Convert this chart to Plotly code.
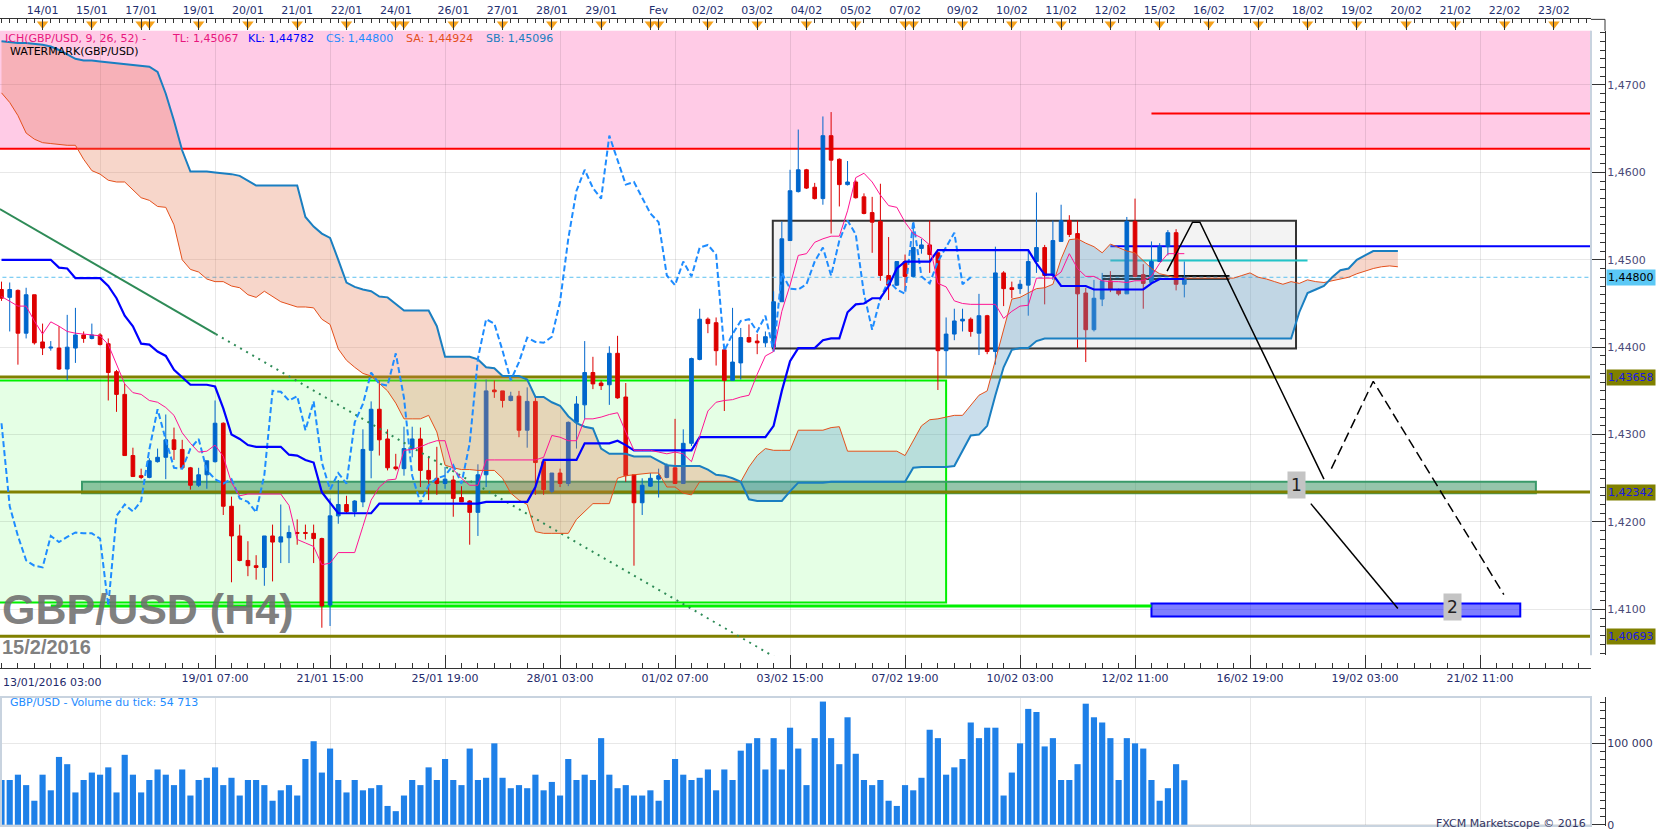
import plotly.graph_objects as go

W, H = 1663, 838

# ---------------- data ----------------
opens = [1.4466, 1.4457, 1.4465, 1.4416, 1.4460, 1.4406, 1.4399, 1.4399, 1.4375, 1.4399,
         1.4414, 1.4410, 1.4414, 1.4404, 1.4372, 1.4346, 1.4276, 1.4253, 1.4251, 1.4269,
         1.4274, 1.4294, 1.4283, 1.4262, 1.4242, 1.4254, 1.4269, 1.4313, 1.4218, 1.4184,
         1.4156, 1.4150, 1.4148, 1.4184, 1.4177, 1.4182, 1.4188, 1.4188, 1.4187, 1.4181,
         1.4105, 1.4207, 1.4220, 1.4212, 1.4223, 1.4282, 1.4329, 1.4295, 1.4263, 1.4261,
         1.4284, 1.4295, 1.4259, 1.4250, 1.4244, 1.4248, 1.4228, 1.4224, 1.4211, 1.4254,
         1.4351, 1.4350, 1.4339, 1.4344, 1.4305, 1.4338, 1.4269, 1.4235, 1.4256, 1.4244,
         1.4314, 1.4334, 1.4371, 1.4359, 1.4357, 1.4393, 1.4343, 1.4254, 1.4222, 1.4241,
         1.4249, 1.4251, 1.4262, 1.4244, 1.4290, 1.4386, 1.4432, 1.4428, 1.4397, 1.4362,
         1.4382, 1.4411, 1.4407, 1.4405, 1.4400, 1.4452, 1.4522, 1.4578, 1.4603, 1.4583,
         1.4570, 1.4642, 1.4615, 1.4586, 1.4589, 1.4572, 1.4554, 1.4544, 1.4482, 1.4471,
         1.4498, 1.4481, 1.4513, 1.4517, 1.4508, 1.4396, 1.4415, 1.4430, 1.4432, 1.4416,
         1.4436, 1.4395, 1.4485, 1.4468, 1.4467, 1.4471, 1.4498, 1.4514, 1.4482, 1.4521,
         1.4545, 1.4530, 1.4462, 1.4420, 1.4455, 1.4476, 1.4466, 1.4461, 1.4544, 1.4483,
         1.4474, 1.4498, 1.4515, 1.4531, 1.4472]
highs = [1.4475, 1.4474, 1.4466, 1.4468, 1.4460, 1.4427, 1.4407, 1.4424, 1.4437, 1.4445,
         1.4418, 1.4427, 1.4416, 1.4410, 1.4374, 1.4358, 1.4285, 1.4261, 1.4273, 1.4284,
         1.4323, 1.4308, 1.4294, 1.4263, 1.4262, 1.4270, 1.4339, 1.4314, 1.4229, 1.4197,
         1.4178, 1.4162, 1.4184, 1.4197, 1.4220, 1.4196, 1.4203, 1.4197, 1.4197, 1.4182,
         1.4227, 1.4248, 1.4230, 1.4225, 1.4306, 1.4338, 1.4362, 1.4306, 1.4278, 1.4309,
         1.4309, 1.4308, 1.4275, 1.4286, 1.4263, 1.4253, 1.4241, 1.4225, 1.4266, 1.4363,
         1.4362, 1.4350, 1.4349, 1.4350, 1.4354, 1.4343, 1.4269, 1.4256, 1.4261, 1.4315,
         1.4344, 1.4407, 1.4389, 1.4362, 1.4401, 1.4413, 1.4359, 1.4254, 1.4250, 1.4256,
         1.4261, 1.4267, 1.4318, 1.4306, 1.4388, 1.4444, 1.4434, 1.4434, 1.4398, 1.4445,
         1.4422, 1.4426, 1.4415, 1.4418, 1.4464, 1.4544, 1.4603, 1.4649, 1.4604, 1.4588,
         1.4664, 1.4669, 1.4616, 1.4613, 1.4591, 1.4576, 1.4572, 1.4587, 1.4526, 1.4498,
         1.4506, 1.4543, 1.4524, 1.4545, 1.4509, 1.4434, 1.4444, 1.4444, 1.4434, 1.4461,
         1.4437, 1.4515, 1.4487, 1.4475, 1.4477, 1.4510, 1.4577, 1.4517, 1.4545, 1.4563,
         1.4551, 1.4545, 1.4468, 1.4477, 1.4485, 1.4487, 1.4467, 1.4549, 1.4570, 1.4495,
         1.4521, 1.4519, 1.4534, 1.4535, 1.4498]
lows = [1.4453, 1.4418, 1.4380, 1.4410, 1.4403, 1.4391, 1.4396, 1.4374, 1.4362, 1.4382,
        1.4405, 1.4409, 1.4402, 1.4339, 1.4326, 1.4276, 1.4252, 1.4249, 1.4250, 1.4268,
        1.4249, 1.4271, 1.4262, 1.4237, 1.4240, 1.4238, 1.4268, 1.4208, 1.4131, 1.4155,
        1.4138, 1.4134, 1.4127, 1.4132, 1.4153, 1.4153, 1.4174, 1.4180, 1.4153, 1.4079,
        1.4081, 1.4198, 1.4210, 1.4206, 1.4217, 1.4250, 1.4276, 1.4259, 1.4259, 1.4253,
        1.4274, 1.4240, 1.4225, 1.4231, 1.4238, 1.4206, 1.4223, 1.4174, 1.4184, 1.4240,
        1.4342, 1.4331, 1.4338, 1.4297, 1.4285, 1.4231, 1.4231, 1.4233, 1.4240, 1.4241,
        1.4284, 1.4318, 1.4352, 1.4351, 1.4334, 1.4341, 1.4246, 1.4150, 1.4208, 1.4240,
        1.4228, 1.4250, 1.4244, 1.4244, 1.4287, 1.4385, 1.4416, 1.4379, 1.4327, 1.4362,
        1.4363, 1.4405, 1.4392, 1.4400, 1.4396, 1.4452, 1.4522, 1.4577, 1.4581, 1.4569,
        1.4563, 1.4530, 1.4561, 1.4585, 1.4570, 1.4552, 1.4508, 1.4476, 1.4454, 1.4470,
        1.4464, 1.4480, 1.4507, 1.4485, 1.4351, 1.4367, 1.4408, 1.4418, 1.4412, 1.4391,
        1.4392, 1.4380, 1.4447, 1.4456, 1.4461, 1.4436, 1.4485, 1.4449, 1.4477, 1.4521,
        1.4526, 1.4399, 1.4383, 1.4418, 1.4447, 1.4463, 1.4459, 1.4461, 1.4480, 1.4444,
        1.4474, 1.4498, 1.4505, 1.4465, 1.4457]
closes = [1.4456, 1.4466, 1.4416, 1.4460, 1.4405, 1.4399, 1.4400, 1.4375, 1.4400, 1.4414,
          1.4410, 1.4414, 1.4403, 1.4371, 1.4346, 1.4276, 1.4252, 1.4251, 1.4270, 1.4274,
          1.4294, 1.4283, 1.4262, 1.4242, 1.4254, 1.4270, 1.4313, 1.4218, 1.4184, 1.4156,
          1.4150, 1.4148, 1.4184, 1.4177, 1.4183, 1.4188, 1.4187, 1.4187, 1.4181, 1.4104,
          1.4207, 1.4220, 1.4212, 1.4224, 1.4283, 1.4329, 1.4294, 1.4262, 1.4261, 1.4284,
          1.4295, 1.4259, 1.4249, 1.4244, 1.4249, 1.4227, 1.4223, 1.4211, 1.4254, 1.4350,
          1.4349, 1.4339, 1.4344, 1.4305, 1.4338, 1.4268, 1.4237, 1.4256, 1.4244, 1.4314,
          1.4335, 1.4371, 1.4358, 1.4356, 1.4393, 1.4342, 1.4253, 1.4222, 1.4242, 1.4250,
          1.4253, 1.4265, 1.4244, 1.4290, 1.4387, 1.4432, 1.4427, 1.4396, 1.4362, 1.4383,
          1.4411, 1.4406, 1.4405, 1.4412, 1.4452, 1.4524, 1.4579, 1.4603, 1.4582, 1.4570,
          1.4642, 1.4614, 1.4586, 1.4589, 1.4571, 1.4553, 1.4543, 1.4482, 1.4471, 1.4498,
          1.4481, 1.4514, 1.4517, 1.4506, 1.4396, 1.4415, 1.4430, 1.4432, 1.4418, 1.4436,
          1.4395, 1.4485, 1.4467, 1.4466, 1.4472, 1.4498, 1.4514, 1.4482, 1.4522, 1.4545,
          1.4529, 1.4461, 1.4420, 1.4456, 1.4476, 1.4466, 1.4461, 1.4544, 1.4481, 1.4473,
          1.4498, 1.4515, 1.4531, 1.4472, 1.4480]
volumes = [55000, 55000, 61500, 48700, 29500, 61500, 42300, 83300, 74400, 39700,
           55000, 64100, 61500, 70500, 39700, 85900, 61500, 39700, 55000, 67900,
           61500, 48700, 67900, 35900, 55000, 57700, 70500, 48700, 57700, 35900,
           55000, 55000, 48700, 29500, 42300, 48700, 35900, 80800, 102600, 64100,
           93600, 55000, 39700, 55000, 42300, 44900, 48700, 23100, 16700, 35900,
           55000, 48700, 70500, 55000, 80800, 55000, 48700, 93600, 55000, 57700,
           100000, 57700, 44900, 48700, 44900, 61500, 42300, 52600, 35900, 80800,
           55000, 61500, 55000, 106400, 61500, 44900, 48700, 35900, 35900, 42300,
           29500, 55000, 80800, 61500, 55000, 57700, 67900, 42300, 67900, 55000,
           91000, 100000, 106400, 67900, 106400, 67900, 119200, 93600, 48700, 106400,
           151300, 106400, 74400, 132000, 87200, 55000, 48700, 55000, 29500, 23100,
           48700, 42300, 57700, 116700, 106400, 61500, 70500, 80800, 125600, 106400,
           119200, 119200, 35900, 64100, 100000, 142300, 138500, 96200, 106400, 55000,
           55000, 74400, 148700, 132000, 125600, 106400, 55000, 106400, 100000, 93600,
           55000, 29500, 44900, 74400, 54713]
tenkan = [1.4458, 1.4452, 1.4447, 1.4447, 1.4430, 1.4415, 1.4429, 1.4424, 1.4418, 1.4416,
          1.4415, 1.4414, 1.4413, 1.4403, 1.4380, 1.4358, 1.4348, 1.4346, 1.4339, 1.4337,
          1.4331, 1.4322, 1.4302, 1.4290, 1.4280, 1.4281, 1.4288, 1.4275, 1.4245, 1.4230,
          1.4232, 1.4232, 1.4232, 1.4232, 1.4232, 1.4219, 1.4180, 1.4176, 1.4172, 1.4151,
          1.4153, 1.4165, 1.4165, 1.4165, 1.4195, 1.4225, 1.4240, 1.4248, 1.4249, 1.4282,
          1.4283, 1.4286, 1.4290, 1.4293, 1.4293, 1.4260, 1.4250, 1.4242, 1.4242, 1.4271,
          1.4271, 1.4271, 1.4271, 1.4271, 1.4271, 1.4271, 1.4274, 1.4299, 1.4297, 1.4293,
          1.4293, 1.4318, 1.4318, 1.4320, 1.4323, 1.4325, 1.4303, 1.4282, 1.4282, 1.4282,
          1.4280, 1.4278, 1.4280, 1.4278, 1.4269, 1.4297, 1.4327, 1.4337, 1.4339, 1.4340,
          1.4343, 1.4345, 1.4369, 1.4390, 1.4395, 1.4441, 1.4471, 1.4505, 1.4507, 1.4520,
          1.4524, 1.4527, 1.4527, 1.4556, 1.4594, 1.4599, 1.4589, 1.4574, 1.4562, 1.4560,
          1.4543, 1.4530, 1.4525, 1.4517, 1.4473, 1.4469, 1.4453, 1.4450, 1.4449, 1.4449,
          1.4449, 1.4449, 1.4433, 1.4441, 1.4447, 1.4448, 1.4479, 1.4479, 1.4479, 1.4486,
          1.4507, 1.4490, 1.4481, 1.4481, 1.4476, 1.4475, 1.4475, 1.4474, 1.4476, 1.4476,
          1.4481, 1.4496, 1.4507, 1.4507, 1.4507]
kijun = [1.4500, 1.4500, 1.4500, 1.4500, 1.4500, 1.4500, 1.4500, 1.4491, 1.4490, 1.4479,
         1.4479, 1.4479, 1.4479, 1.4470, 1.4456, 1.4436, 1.4424, 1.4404, 1.4403, 1.4395,
         1.4390, 1.4374, 1.4365, 1.4357, 1.4357, 1.4357, 1.4355, 1.4330, 1.4300, 1.4295,
         1.4288, 1.4286, 1.4286, 1.4286, 1.4286, 1.4277, 1.4276, 1.4271, 1.4268, 1.4234,
         1.4222, 1.4210, 1.4210, 1.4210, 1.4210, 1.4210, 1.4221, 1.4221, 1.4221, 1.4221,
         1.4221, 1.4221, 1.4221, 1.4221, 1.4221, 1.4221, 1.4221, 1.4221, 1.4221, 1.4223,
         1.4223, 1.4223, 1.4223, 1.4223, 1.4223, 1.4240, 1.4271, 1.4271, 1.4271, 1.4271,
         1.4271, 1.4290, 1.4290, 1.4290, 1.4290, 1.4293, 1.4288, 1.4282, 1.4282, 1.4282,
         1.4282, 1.4282, 1.4282, 1.4282, 1.4282, 1.4297, 1.4297, 1.4297, 1.4297, 1.4297,
         1.4297, 1.4297, 1.4297, 1.4297, 1.4310, 1.4350, 1.4384, 1.4399, 1.4399, 1.4399,
         1.4408, 1.4410, 1.4410, 1.4440, 1.4449, 1.4450, 1.4456, 1.4456, 1.4470, 1.4490,
         1.4498, 1.4498, 1.4498, 1.4498, 1.4511, 1.4511, 1.4511, 1.4511, 1.4511, 1.4511,
         1.4511, 1.4511, 1.4511, 1.4511, 1.4511, 1.4511, 1.4496, 1.4483, 1.4483, 1.4470,
         1.4470, 1.4470, 1.4470, 1.4466, 1.4466, 1.4466, 1.4466, 1.4466, 1.4466, 1.4466,
         1.4473, 1.4478, 1.4478, 1.4478, 1.4478]
senkou_a = [1.4691, 1.4680, 1.4665, 1.4645, 1.4638, 1.4634, 1.4633, 1.4632, 1.4631, 1.4631,
            1.4615, 1.4602, 1.4598, 1.4591, 1.4589, 1.4589, 1.4580, 1.4571, 1.4568, 1.4561,
            1.4560, 1.4540, 1.4500, 1.4489, 1.4486, 1.4478, 1.4475, 1.4475, 1.4470, 1.4468,
            1.4460, 1.4457, 1.4464, 1.4458, 1.4452, 1.4449, 1.4446, 1.4446, 1.4445, 1.4432,
            1.4426, 1.4398, 1.4385, 1.4377, 1.4370, 1.4367, 1.4358, 1.4350, 1.4336, 1.4318,
            1.4318, 1.4318, 1.4322, 1.4303, 1.4265, 1.4262, 1.4260, 1.4260, 1.4259, 1.4259,
            1.4259, 1.4250, 1.4233, 1.4225, 1.4220, 1.4189, 1.4187, 1.4187, 1.4187, 1.4187,
            1.4203, 1.4212, 1.4221, 1.4221, 1.4221, 1.4250, 1.4253, 1.4254, 1.4255, 1.4256,
            1.4256, 1.4240, 1.4240, 1.4233, 1.4231, 1.4246, 1.4246, 1.4246, 1.4246, 1.4246,
            1.4246, 1.4263, 1.4276, 1.4284, 1.4282, 1.4282, 1.4282, 1.4305, 1.4305, 1.4305,
            1.4305, 1.4308, 1.4309, 1.4281, 1.4281, 1.4281, 1.4281, 1.4281, 1.4281, 1.4281,
            1.4276, 1.4293, 1.4310, 1.4317, 1.4318, 1.4320, 1.4322, 1.4322, 1.4333, 1.4345,
            1.4350, 1.4384, 1.4420, 1.4455, 1.4457, 1.4462, 1.4467, 1.4468, 1.4472, 1.4501,
            1.4523, 1.4524, 1.4519, 1.4515, 1.4508, 1.4518, 1.4514, 1.4510, 1.4508, 1.4499,
            1.4490, 1.4484, 1.4482, 1.4479, 1.4479, 1.4479, 1.4479, 1.4479, 1.4479, 1.4479,
            1.4479, 1.4482, 1.4485, 1.4480, 1.4478, 1.4475, 1.4472, 1.4475, 1.4473, 1.4477,
            1.4475, 1.4474, 1.4476, 1.4478, 1.4480, 1.4484, 1.4487, 1.4490, 1.4492, 1.4493,
            1.4492]
senkou_b = [1.4750, 1.4749, 1.4748, 1.4748, 1.4747, 1.4746, 1.4744, 1.4740, 1.4735, 1.4730,
            1.4728, 1.4728, 1.4727, 1.4726, 1.4725, 1.4724, 1.4723, 1.4722, 1.4721, 1.4715,
            1.4690, 1.4659, 1.4625, 1.4601, 1.4601, 1.4601, 1.4600, 1.4599, 1.4598, 1.4596,
            1.4590, 1.4585, 1.4585, 1.4585, 1.4585, 1.4585, 1.4585, 1.4549, 1.4538, 1.4530,
            1.4525, 1.4500, 1.4474, 1.4469, 1.4466, 1.4464, 1.4458, 1.4457, 1.4450, 1.4442,
            1.4442, 1.4442, 1.4442, 1.4424, 1.4389, 1.4389, 1.4389, 1.4389, 1.4386, 1.4377,
            1.4376, 1.4367, 1.4367, 1.4367, 1.4363, 1.4343, 1.4343, 1.4337, 1.4333, 1.4321,
            1.4313, 1.4309, 1.4307, 1.4284, 1.4278, 1.4278, 1.4278, 1.4275, 1.4275, 1.4275,
            1.4270, 1.4265, 1.4264, 1.4264, 1.4264, 1.4264, 1.4260, 1.4254, 1.4253, 1.4250,
            1.4246, 1.4226, 1.4224, 1.4224, 1.4224, 1.4224, 1.4235, 1.4245, 1.4245, 1.4245,
            1.4245, 1.4246, 1.4246, 1.4246, 1.4246, 1.4246, 1.4246, 1.4246, 1.4246, 1.4246,
            1.4246, 1.4262, 1.4263, 1.4263, 1.4263, 1.4263, 1.4264, 1.4282, 1.4299, 1.4300,
            1.4310, 1.4345, 1.4377, 1.4397, 1.4399, 1.4399, 1.4407, 1.4410, 1.4410, 1.4410,
            1.4410, 1.4410, 1.4410, 1.4410, 1.4410, 1.4410, 1.4410, 1.4410, 1.4410, 1.4410,
            1.4410, 1.4410, 1.4410, 1.4410, 1.4410, 1.4410, 1.4410, 1.4410, 1.4410, 1.4410,
            1.4410, 1.4410, 1.4410, 1.4410, 1.4410, 1.4410, 1.4410, 1.4410, 1.4440, 1.4462,
            1.4466, 1.4470, 1.4480, 1.4488, 1.4490, 1.4500, 1.4505, 1.4510, 1.4510, 1.4510,
            1.4510]
chikou_shift = 26
legend_values = [("TL", 1.45067), ("KL", 1.44782), ("CS", 1.44800), ("SA", 1.44924),
                 ("SB", 1.45096)]
tick_volume_text = "54 713"

# axis labels
day_idx = [5, 11, 17, 18, 24, 30, 36, 42, 48, 49, 55, 61, 67, 73, 79, 80, 86, 92, 98, 104,
           110, 111, 117, 123, 129, 135, 141, 147, 153, 159, 165, 171, 177, 183, 189]
day_txt = ['14/01', '15/01', '17/01', '', '19/01', '20/01', '21/01', '22/01', '24/01', '',
           '26/01', '27/01', '28/01', '29/01', '', 'Fev', '02/02', '03/02', '04/02', '05/02',
           '07/02', '', '09/02', '10/02', '11/02', '12/02', '15/02', '16/02', '17/02', '18/02',
           '19/02', '20/02', '21/02', '22/02', '23/02']
time_idx = [12, 26, 40, 54, 68, 82, 96, 110, 124, 138, 152, 166, 180]
time_txt = ['', '19/01 07:00', '21/01 15:00', '25/01 19:00', '28/01 03:00', '01/02 07:00',
            '03/02 15:00', '07/02 19:00', '10/02 03:00', '12/02 11:00', '16/02 19:00',
            '19/02 03:00', '21/02 11:00']
first_time_label = '13/01/2016 03:00'
price_ticks = [1.41, 1.42, 1.43, 1.44, 1.45, 1.46, 1.47]
vol_ticks = [0, 100000]

# drawings (levels in price, spans in candle index)
olive_levels = [1.43658, 1.42342, 1.40693]
current_price = 1.44800
pink_zone = (1.4627, 1.4800)
red_low = 1.4627
red_high = (140, 1.46674)
blue_level = (135, 1.45156)
cyan_level = (135, 159, 1.44993)
black_levels = (134, 149.5, [1.44815, 1.44781])
green_zone = (-5, 115, 1.4108, 1.4362)
green_line = (6, 140, 1.4104)
grey_box = (93.9, 157.6, 1.43986, 1.45447)
teal_band = (9.8, 186.8, 1.4233, 1.4246)
blue_box = (140, 184.9, 1.40918, 1.41066)
trend_solid_x = [-0.2, 26.1]
trend_solid_y = [1.4558, 1.4415]
trend_dot_x = [26.1, 97.0]
trend_dot_y = [1.4415, 1.4030]
proj_solid1_x = [141.9, 145.0, 145.9, 161.0]
proj_solid1_y = [1.4487, 1.4543, 1.4543, 1.4249]
proj_solid2_x = [159.4, 170.0]
proj_solid2_y = [1.4221, 1.4101]
proj_dash_x = [161.9, 167.0, 182.9]
proj_dash_y = [1.4261, 1.4361, 1.4117]
label_pts = [('1', 157.6, 1.4242), ('2', 176.7, 1.4103)]

# ---------------- layout geometry (pixels) ----------------
PLOT_R = 1591
AX_X = 1605
PRICE_TOP, PRICE_BOT = 31, 660
VOL_TOP, VOL_BOT = 702, 832
X0, DX = 1.5, 8.214


def px(v):
    return v / W


def py(v):
    return 1 - v / H


def price_at(ypix):
    return 1.47 - (ypix - 85.6) / 8803.0


def fmt(v, n):
    return f"{v:.{n}f}".replace('.', ',')


xr = [(0 - X0) / DX, (PLOT_R - X0) / DX]
yr = [price_at(PRICE_BOT), price_at(PRICE_TOP)]
vr = [-(VOL_BOT - 830.7) / 82.0 * 100000, (830.7 - VOL_TOP) / 82.0 * 100000]

idx = list(range(len(opens)))
cidx = list(range(len(senkou_a)))

fig = go.Figure()

# candles
fig.add_trace(go.Candlestick(
    x=idx, open=opens, high=highs, low=lows, close=closes,
    increasing=dict(line=dict(color='#0066CC', width=1), fillcolor='#0066CC'),
    decreasing=dict(line=dict(color='#DD0000', width=1), fillcolor='#DD0000'),
    whiskerwidth=0, hoverinfo='skip', showlegend=False, xaxis='x', yaxis='y'))


# cloud fill (drawn over candles, translucent)
def cloud_polys(a, b):
    polys = []
    cx, ca, cb = [0], [a[0]], [b[0]]
    bull = a[0] >= b[0]
    for k in range(1, len(a)):
        nb = a[k] >= b[k]
        if nb != bull:
            d0 = a[k - 1] - b[k - 1]
            d1 = a[k] - b[k]
            t = d0 / (d0 - d1)
            xc = k - 1 + t
            yc = a[k - 1] + t * (a[k] - a[k - 1])
            cx.append(xc); ca.append(yc); cb.append(yc)
            polys.append((cx, ca, cb, bull))
            cx, ca, cb = [xc], [yc], [yc]
            bull = nb
        cx.append(k); ca.append(a[k]); cb.append(b[k])
    polys.append((cx, ca, cb, bull))
    return polys


for cx, ca, cb, bull in cloud_polys(senkou_a, senkou_b):
    fig.add_trace(go.Scatter(
        x=cx + cx[::-1], y=ca + cb[::-1], fill='toself', mode='lines',
        line=dict(width=0),
        fillcolor='rgba(100,160,200,0.35)' if bull else 'rgba(230,120,80,0.30)',
        hoverinfo='skip', showlegend=False, xaxis='x', yaxis='y'))

# trendline
fig.add_trace(go.Scatter(x=trend_solid_x, y=trend_solid_y, mode='lines',
                         line=dict(color='#2E8B57', width=2), hoverinfo='skip', showlegend=False))
fig.add_trace(go.Scatter(x=trend_dot_x, y=trend_dot_y, mode='lines',
                         line=dict(color='#2E8B57', width=2, dash='2px,5px'), hoverinfo='skip',
                         showlegend=False))

# ichimoku lines
fig.add_trace(go.Scatter(x=cidx, y=senkou_a, mode='lines', line=dict(color='#E4501C', width=1),
                         hoverinfo='skip', showlegend=False))
fig.add_trace(go.Scatter(x=cidx, y=senkou_b, mode='lines', line=dict(color='#1A7FC1', width=2),
                         hoverinfo='skip', showlegend=False))
fig.add_trace(go.Scatter(x=idx[:len(closes) - chikou_shift], y=closes[chikou_shift:], mode='lines',
                         line=dict(color='#1E8CFF', width=2, dash='6px,3px'),
                         hoverinfo='skip', showlegend=False))
fig.add_trace(go.Scatter(x=idx, y=kijun, mode='lines', line=dict(color='#0000FF', width=2.2),
                         hoverinfo='skip', showlegend=False))
fig.add_trace(go.Scatter(x=idx, y=tenkan, mode='lines', line=dict(color='#FF1493', width=1),
                         hoverinfo='skip', showlegend=False))

# projection lines
fig.add_trace(go.Scatter(x=proj_solid1_x, y=proj_solid1_y, mode='lines',
                         line=dict(color='black', width=1.5), hoverinfo='skip', showlegend=False))
fig.add_trace(go.Scatter(x=proj_solid2_x, y=proj_solid2_y, mode='lines',
                         line=dict(color='black', width=1.5), hoverinfo='skip', showlegend=False))
fig.add_trace(go.Scatter(x=proj_dash_x, y=proj_dash_y, mode='lines',
                         line=dict(color='black', width=1.5, dash='10px,5px'), hoverinfo='skip',
                         showlegend=False))

# volume
fig.add_trace(go.Bar(x=idx, y=volumes, marker=dict(color='#1E80E8', line=dict(width=0)),
                     hoverinfo='skip', showlegend=False, xaxis='x2', yaxis='y2'))

# top axis triangles
fig.add_trace(go.Scatter(x=day_idx, y=[0.6] * len(day_idx), mode='markers',
                         marker=dict(symbol='triangle-down', size=10, color='#F5A21C',
                                     line=dict(width=0)),
                         cliponaxis=False, hoverinfo='skip', showlegend=False,
                         xaxis='x3', yaxis='y3'))

shapes = []
XL, XR = -5, 200
shapes.append(dict(type='rect', xref='x', yref='y', x0=XL, x1=XR, y0=pink_zone[0], y1=pink_zone[1],
                   fillcolor='#FFCBE6', line=dict(width=0), layer='below'))
shapes.append(dict(type='rect', xref='x', yref='y', x0=green_zone[0], x1=green_zone[1],
                   y0=green_zone[2], y1=green_zone[3], fillcolor='#E5FFE5',
                   line=dict(color='#00F000', width=2), layer='below'))
shapes.append(dict(type='rect', xref='x', yref='y', x0=grey_box[0], x1=grey_box[1],
                   y0=grey_box[2], y1=grey_box[3], fillcolor='#F3F3F3',
                   line=dict(color='#333333', width=2), layer='below'))
shapes.append(dict(type='rect', xref='x', yref='y', x0=teal_band[0], x1=teal_band[1],
                   y0=teal_band[2], y1=teal_band[3], fillcolor='rgba(46,139,87,0.5)',
                   line=dict(color='#3A9A6A', width=2), layer='between'))
shapes.append(dict(type='rect', xref='x', yref='y', x0=blue_box[0], x1=blue_box[1],
                   y0=blue_box[2], y1=blue_box[3], fillcolor='rgba(0,0,255,0.5)',
                   line=dict(color='#0000FF', width=2), layer='between'))
for lv in olive_levels:
    shapes.append(dict(type='line', xref='x', yref='y', x0=XL, x1=XR, y0=lv, y1=lv,
                       line=dict(color='#808000', width=3), layer='between'))
shapes.append(dict(type='line', xref='x', yref='y', x0=XL, x1=XR, y0=red_low, y1=red_low,
                   line=dict(color='#FF0000', width=2), layer='between'))
shapes.append(dict(type='line', xref='x', yref='y', x0=red_high[0], x1=XR, y0=red_high[1],
                   y1=red_high[1], line=dict(color='#FF0000', width=2), layer='between'))
shapes.append(dict(type='line', xref='x', yref='y', x0=blue_level[0], x1=XR, y0=blue_level[1],
                   y1=blue_level[1], line=dict(color='#0000FF', width=2), layer='between'))
shapes.append(dict(type='line', xref='x', yref='y', x0=cyan_level[0], x1=cyan_level[1],
                   y0=cyan_level[2], y1=cyan_level[2], line=dict(color='#22C4C8', width=2),
                   layer='between'))
for lv in black_levels[2]:
    shapes.append(dict(type='line', xref='x', yref='y', x0=black_levels[0], x1=black_levels[1],
                       y0=lv, y1=lv, line=dict(color='#111111', width=2), layer='between'))
shapes.append(dict(type='line', xref='x', yref='y', x0=green_line[0], x1=green_line[1],
                   y0=green_line[2], y1=green_line[2], line=dict(color='#00F000', width=3),
                   layer='between'))
shapes.append(dict(type='line', xref='x', yref='y', x0=XL, x1=XR, y0=current_price,
                   y1=current_price, line=dict(color='#5BC0F0', width=1, dash='4px,3px'),
                   layer='between'))
# panel frames
shapes.append(dict(type='line', xref='paper', yref='paper', x0=px(PLOT_R), x1=px(PLOT_R),
                   y0=py(PRICE_BOT), y1=py(PRICE_TOP), line=dict(color='#C8D3DF', width=2)))
shapes.append(dict(type='rect', xref='paper', yref='paper', x0=px(1), x1=px(PLOT_R),
                   y0=py(VOL_BOT), y1=py(VOL_TOP), line=dict(color='#C8D3DF', width=2)))
shapes.append(dict(type='line', xref='paper', yref='paper', x0=px(PLOT_R), x1=px(AX_X),
                   y0=py(19.5), y1=py(19.5), line=dict(color='#333333', width=1)))
shapes.append(dict(type='line', xref='paper', yref='paper', x0=px(AX_X), x1=px(AX_X),
                   y0=py(PRICE_TOP), y1=py(19.5), line=dict(color='#333333', width=1)))

ann = []
FONT = 'DejaVu Sans'
legend_colors = ['#E8177D', '#0000FF', '#1E8CFF', '#E4501C', '#1A7FC1']
legend_x = [170, 246, 324, 404, 484]
ann.append(dict(text="ICH(GBP/USD, 9, 26, 52) -", x=px(3), y=py(39), xref='paper', yref='paper',
                xanchor='left', yanchor='middle', showarrow=False,
                font=dict(family=FONT, size=11, color='#E8177D')))
for (name, val), xx, col in zip(legend_values, legend_x, legend_colors):
    ann.append(dict(text=f"{name}: {fmt(val, 5)}", x=px(xx), y=py(39), xref='paper',
                    yref='paper', xanchor='left', yanchor='middle', showarrow=False,
                    font=dict(family=FONT, size=11, color=col)))
ann.append(dict(text='WATERMARK(GBP/USD)', x=px(8), y=py(52), xref='paper', yref='paper',
                xanchor='left', yanchor='middle', showarrow=False,
                font=dict(family=FONT, size=11, color='#000000')))
ann.append(dict(text='GBP/USD - Volume du tick: ' + tick_volume_text, x=px(8), y=py(708),
                xref='paper', yref='paper', xanchor='left', yanchor='middle', showarrow=False,
                font=dict(family=FONT, size=11, color='#1E8CFF')))
ann.append(dict(text='FXCM Marketscope © 2016', x=px(1588), y=py(829), xref='paper',
                yref='paper', xanchor='right', yanchor='middle', showarrow=False,
                font=dict(family=FONT, size=11, color='#33335F')))
ann.append(dict(text=first_time_label, x=px(1), y=py(687), xref='paper', yref='paper',
                xanchor='left', yanchor='middle', showarrow=False,
                font=dict(family=FONT, size=11, color='#1F2A6B')))
ann.append(dict(text='<b>GBP/USD (H4)</b>', x=px(0), y=py(613), xref='paper', yref='paper',
                xanchor='left', yanchor='middle', showarrow=False,
                font=dict(family='Liberation Sans', size=43, color='rgba(110,110,110,0.88)')))
ann.append(dict(text='<b>15/2/2016</b>', x=px(0), y=py(652), xref='paper', yref='paper',
                xanchor='left', yanchor='middle', showarrow=False,
                font=dict(family='Liberation Sans', size=20, color='rgba(110,110,110,0.88)')))
# price badges
ann.append(dict(text=fmt(current_price, 5), x=px(1606), y=current_price,
                xref='paper', yref='y', xanchor='left', yanchor='middle', showarrow=False,
                bgcolor='#5BC8F5', borderpad=1, font=dict(family=FONT, size=11, color='#000000')))
for lv in olive_levels:
    ann.append(dict(text=fmt(lv, 5), x=px(1606), y=lv, xref='paper', yref='y',
                    xanchor='left', yanchor='middle', showarrow=False, bgcolor='#808000',
                    borderpad=1, font=dict(family=FONT, size=11, color='#1A1AE6')))
for t, xx, yy in label_pts:
    ann.append(dict(text=t, x=xx, y=yy, xref='x', yref='y', xanchor='center', yanchor='middle',
                    showarrow=False, bgcolor='#C4C4C4', borderpad=3,
                    font=dict(family=FONT, size=17, color='#222222')))

AXC = '#333333'
GRID = 'rgba(0,0,0,0.09)'

fig.update_layout(
    width=W, height=H, margin=dict(l=0, r=0, t=0, b=0),
    paper_bgcolor='white', plot_bgcolor='white', separators=', ',
    showlegend=False, boxgap=0.36, bargap=0.25,
    font=dict(family=FONT, size=11, color='#2B2B6B'),
    shapes=shapes, annotations=ann,
    xaxis=dict(domain=[0, px(PLOT_R)], range=xr, anchor='free', position=py(673),
               tickmode='array', tickvals=time_idx, ticktext=time_txt,
               ticks='inside', ticklen=13, tickcolor=AXC, showline=True, linecolor=AXC,
               showgrid=True, gridcolor=GRID, zeroline=False, rangeslider=dict(visible=False),
               minor=dict(ticks='inside', ticklen=5, tickcolor=AXC, dtick=2, tick0=0,
                          showgrid=False),
               tickfont=dict(family=FONT, size=11, color='#1F2A6B')),
    yaxis=dict(domain=[py(PRICE_BOT), py(PRICE_TOP)], range=yr, side='right', anchor='free',
               position=px(AX_X), tickmode='array', tickvals=price_ticks, tickformat='.4f',
               ticks='inside', ticklen=14, tickcolor=AXC, showline=True, linecolor=AXC,
               showgrid=True, gridcolor=GRID, zeroline=False, ticklabelstandoff=-1,
               minor=dict(ticks='inside', ticklen=5, tickcolor=AXC, dtick=0.001, tick0=1.40,
                          showgrid=False),
               tickfont=dict(family=FONT, size=11, color='#4A4A78')),
    xaxis2=dict(domain=[0, px(PLOT_R)], range=xr, anchor='y2', matches='x',
                tickmode='array', tickvals=time_idx, showticklabels=False, ticks='',
                showgrid=True, gridcolor=GRID, zeroline=False, showline=False),
    yaxis2=dict(domain=[py(VOL_BOT), py(VOL_TOP)], range=vr, side='right', anchor='free',
                position=px(AX_X), tickmode='array', tickvals=vol_ticks, tickformat=',d',
                ticks='inside', ticklen=14, tickcolor=AXC, showline=True, linecolor=AXC,
                showgrid=True, gridcolor=GRID, zeroline=False, ticklabelstandoff=-1,
                minor=dict(ticks='inside', ticklen=5, tickcolor=AXC, dtick=10000, tick0=0,
                           showgrid=False),
                tickfont=dict(family=FONT, size=11, color='#33335F')),
    xaxis3=dict(domain=[0, px(PLOT_R)], range=xr, anchor='y3', matches='x', side='top',
                tickmode='array', tickvals=day_idx, ticktext=day_txt, ticks='inside',
                ticklen=11, tickcolor=AXC, showline=True, linecolor=AXC, showgrid=False,
                zeroline=False,
                minor=dict(ticks='inside', ticklen=4, tickcolor=AXC, dtick=1, tick0=0,
                           showgrid=False),
                tickfont=dict(family=FONT, size=11, color='#1F2F6F')),
    yaxis3=dict(domain=[py(PRICE_TOP), py(19.5)], range=[0, 1], visible=False, fixedrange=True),
)

fig.write_html("out.html", config={'displayModeBar': False},
               post_script="document.body.style.margin='0px';document.body.style.overflow='hidden';")
